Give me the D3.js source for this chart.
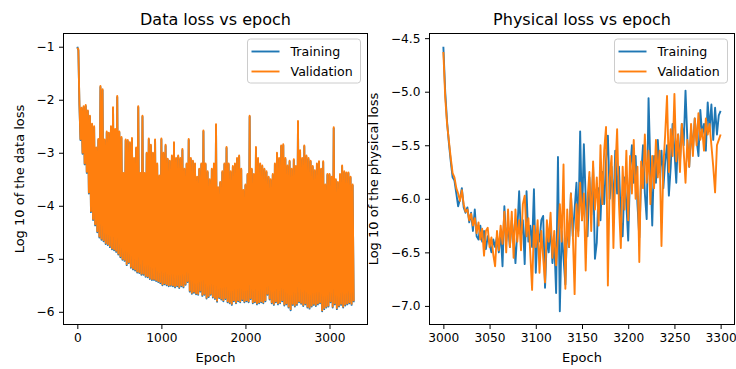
<!DOCTYPE html>
<html><head><meta charset="utf-8">
<script src="https://cdn.jsdelivr.net/npm/d3@7"></script>
<style>
body{margin:0;background:#fff}
svg{display:block}
text{font-family:"DejaVu Sans",sans-serif;fill:#000}
</style>
</head><body>
<svg id="c" width="736" height="369"></svg>
<script>
// ---------- Left chart: data loss (log10), read per 25-epoch bin: bin max / bin min ----------
const dataStep = 25;
const dataValHigh = [
-1.02,-2.08,-2.15,-2.12,-2.10,-2.20,-2.30,-2.45,-2.50,-2.90,
-2.74,-1.74,-1.80,-2.75,-2.60,-2.62,-2.50,-2.14,-2.55,-1.93,
-2.60,-2.70,-3.38,-2.75,-2.76,-2.80,-2.72,-3.10,-2.90,-2.12,
-3.38,-2.30,-3.38,-3.00,-2.73,-2.85,-3.00,-2.75,-3.20,-3.43,
-2.73,-3.00,-2.85,-3.11,-3.15,-3.05,-2.80,-3.10,-3.05,-3.10,
-2.93,-3.30,-3.20,-2.74,-3.10,-3.15,-3.20,-3.45,-3.30,-3.20,
-2.58,-3.20,-3.35,-3.50,-3.30,-3.20,-2.46,-3.65,-3.55,-3.35,
-3.20,-2.89,-3.20,-3.35,-3.25,-3.20,-3.10,-3.05,-3.30,-3.70,
-3.60,-3.40,-2.30,-3.30,-3.40,-2.89,-3.10,-3.20,-3.24,-3.30,
-3.35,-3.45,-3.50,-3.40,-3.20,-3.00,-3.10,-2.86,-2.84,-3.10,
-3.24,-3.15,-3.30,-3.12,-3.25,-2.40,-2.95,-3.10,-2.86,-3.05,
-3.10,-3.15,-3.25,-3.33,-3.20,-3.16,-3.30,-3.16,-3.60,-3.40,
-3.40,-3.45,-2.52,-3.50,-3.55,-3.40,-3.24,-3.35,-3.37,-3.37,
-3.45,-3.60];
const dataValLow = [
-1.05,-2.74,-3.00,-3.20,-3.36,-3.75,-4.10,-4.25,-4.35,-4.48,
-4.58,-4.62,-4.65,-4.70,-4.72,-4.76,-4.80,-4.82,-4.85,-4.90,
-4.95,-5.00,-5.02,-5.10,-5.06,-5.15,-5.18,-5.20,-5.24,-5.25,
-5.28,-5.28,-5.32,-5.33,-5.36,-5.38,-5.38,-5.40,-5.42,-5.44,
-5.48,-5.46,-5.48,-5.50,-5.49,-5.50,-5.52,-5.50,-5.53,-5.50,
-5.52,-5.47,-5.42,-5.60,-5.64,-5.62,-5.65,-5.66,-5.60,-5.68,
-5.66,-5.73,-5.70,-5.66,-5.71,-5.74,-5.79,-5.72,-5.75,-5.78,
-5.74,-5.80,-5.82,-5.85,-5.78,-5.82,-5.78,-5.80,-5.76,-5.80,
-5.78,-5.80,-5.74,-5.82,-5.80,-5.84,-5.82,-5.80,-5.82,-5.78,
-5.66,-5.75,-5.82,-5.85,-5.80,-5.84,-5.82,-5.78,-5.86,-5.84,
-5.90,-5.95,-5.85,-5.88,-5.85,-5.80,-5.83,-5.87,-5.84,-5.90,
-5.92,-5.88,-5.85,-5.87,-5.84,-5.82,-5.97,-5.93,-5.90,-5.88,
-5.80,-5.90,-5.84,-5.93,-5.88,-5.85,-5.90,-5.86,-5.84,-5.82,
-5.85,-5.80];
const dataTrainHigh = [
-1.00,-2.10,-2.17,-2.14,-2.12,-2.22,-2.32,-2.47,-2.52,-2.92,
-2.76,-1.76,-1.82,-2.77,-2.62,-2.64,-2.52,-2.16,-2.57,-1.95,
-2.62,-2.72,-3.40,-2.77,-2.78,-2.82,-2.74,-3.12,-2.92,-2.14,
-3.40,-2.32,-3.40,-3.02,-2.75,-2.87,-3.02,-2.77,-3.22,-3.45,
-2.75,-3.02,-2.87,-3.13,-3.17,-3.07,-2.82,-3.12,-3.07,-3.12,
-2.95,-3.32,-3.22,-2.76,-3.12,-3.17,-3.22,-3.47,-3.32,-3.22,
-2.60,-3.22,-3.37,-3.52,-3.32,-3.22,-2.48,-3.67,-3.57,-3.37,
-3.22,-2.91,-3.22,-3.37,-3.27,-3.22,-3.12,-3.07,-3.32,-3.72,
-3.62,-3.42,-2.32,-3.32,-3.42,-2.91,-3.12,-3.22,-3.26,-3.32,
-3.37,-3.47,-3.52,-3.42,-3.22,-3.02,-3.12,-2.88,-2.86,-3.12,
-3.26,-3.17,-3.32,-3.14,-3.27,-2.42,-2.97,-3.12,-2.88,-3.07,
-3.12,-3.17,-3.27,-3.35,-3.22,-3.18,-3.32,-3.18,-3.62,-3.42,
-3.42,-3.47,-2.54,-3.52,-3.57,-3.42,-3.26,-3.37,-3.39,-3.39,
-3.47,-3.62];
const dataTrainLow = [
-1.07,-2.76,-3.02,-3.22,-3.38,-3.77,-4.12,-4.27,-4.37,-4.50,
-4.60,-4.64,-4.67,-4.72,-4.74,-4.78,-4.82,-4.84,-4.87,-4.92,
-4.97,-5.02,-5.04,-5.12,-5.08,-5.17,-5.20,-5.22,-5.26,-5.27,
-5.30,-5.30,-5.34,-5.35,-5.38,-5.40,-5.40,-5.42,-5.44,-5.46,
-5.50,-5.48,-5.50,-5.52,-5.51,-5.52,-5.54,-5.52,-5.55,-5.52,
-5.54,-5.49,-5.44,-5.62,-5.66,-5.64,-5.67,-5.68,-5.62,-5.70,
-5.68,-5.75,-5.72,-5.68,-5.73,-5.76,-5.81,-5.74,-5.77,-5.80,
-5.76,-5.82,-5.84,-5.87,-5.80,-5.84,-5.80,-5.82,-5.78,-5.82,
-5.80,-5.82,-5.76,-5.84,-5.82,-5.86,-5.84,-5.82,-5.84,-5.80,
-5.68,-5.77,-5.84,-5.87,-5.82,-5.86,-5.84,-5.80,-5.88,-5.86,
-5.92,-5.97,-5.87,-5.90,-5.87,-5.82,-5.85,-5.89,-5.86,-5.92,
-5.94,-5.90,-5.87,-5.89,-5.86,-5.84,-5.99,-5.95,-5.92,-5.90,
-5.82,-5.92,-5.86,-5.95,-5.90,-5.87,-5.92,-5.88,-5.86,-5.84,
-5.87,-5.82];

// ---------- Right chart: physical loss (log10), every 2 epochs from 3000 to 3300 ----------
const physStart = 3000, physStep = 2;
const physTrain = [
-4.58,-5.00,-5.28,-5.48,-5.65,-5.80,-5.83,-5.95,-6.07,-6.00,
-5.90,-6.08,-6.13,-6.08,-6.22,-6.13,-6.30,-6.10,-6.35,-6.38,
-6.25,-6.40,-6.30,-6.47,-6.35,-6.42,-6.50,-6.38,-6.45,-6.35,
-6.50,-6.30,-6.63,-6.07,-6.40,-6.25,-6.45,-6.20,-6.35,-6.60,
-6.30,-5.93,-6.35,-6.20,-6.61,-5.93,-6.40,-6.25,-6.45,-5.91,
-6.69,-6.30,-6.40,-6.20,-6.16,-6.83,-6.35,-6.50,-6.25,-6.60,
-6.40,-6.88,-5.61,-7.05,-6.30,-6.55,-6.80,-6.20,-6.45,-5.95,
-6.35,-6.10,-5.85,-6.30,-5.37,-6.20,-5.49,-6.00,-6.35,-5.80,
-6.15,-5.70,-6.56,-6.41,-5.90,-6.20,-5.75,-6.05,-5.65,-5.41,
-6.00,-5.70,-6.10,-5.55,-5.95,-5.70,-6.20,-6.35,-5.80,-6.05,
-6.39,-5.75,-5.50,-5.85,-5.60,-6.05,-6.36,-5.80,-5.50,-5.95,
-6.19,-5.06,-5.70,-6.25,-5.60,-5.85,-5.45,-5.75,-5.55,-5.90,
-5.65,-5.50,-5.97,-5.70,-5.30,-5.55,-5.85,-5.40,-5.65,-5.30,
-5.50,-4.99,-5.45,-5.70,-5.35,-5.55,-5.25,-5.45,-5.60,-5.17,
-5.40,-5.30,-5.55,-5.10,-5.35,-5.12,-5.45,-5.15,-5.40,-5.22,
-5.18];
const physVal = [
-4.63,-5.05,-5.30,-5.46,-5.62,-5.76,-5.80,-5.90,-5.95,-6.02,
-5.92,-6.05,-6.12,-6.10,-6.20,-6.14,-6.25,-6.18,-6.32,-6.22,
-6.38,-6.28,-6.53,-6.30,-6.27,-6.45,-6.36,-6.52,-6.63,-6.30,
-6.48,-6.25,-6.42,-6.12,-6.50,-6.10,-6.45,-6.12,-6.55,-6.10,
-6.40,-6.20,-6.48,-6.05,-5.97,-6.35,-6.18,-6.50,-6.85,-6.25,
-6.45,-6.20,-6.69,-6.30,-6.55,-6.78,-6.20,-6.40,-6.13,-6.55,
-6.30,-6.62,-6.35,-6.05,-6.40,-5.68,-6.84,-6.10,-6.45,-5.95,
-6.30,-6.89,-6.05,-6.35,-5.85,-6.20,-5.95,-6.67,-6.00,-5.75,
-6.30,-5.65,-6.10,-5.80,-6.25,-5.50,-6.05,-5.55,-5.33,-6.81,
-5.80,-5.60,-6.46,-5.75,-5.35,-6.05,-6.46,-5.70,-6.10,-5.55,
-6.20,-5.60,-5.95,-5.45,-6.00,-5.70,-6.59,-5.65,-5.90,-5.40,
-5.85,-5.55,-6.05,-5.60,-5.90,-5.45,-5.80,-5.55,-6.44,-5.70,
-5.40,-5.04,-5.75,-5.35,-5.60,-5.02,-5.65,-5.40,-5.75,-5.30,
-5.55,-5.85,-5.45,-5.70,-5.30,-5.60,-5.25,-5.50,-5.20,-5.45,
-5.35,-5.55,-5.25,-5.40,-5.30,-5.50,-5.70,-5.94,-5.50,-5.45,
-5.40];

// ---------- Ticks & labels ----------
const leftXTicks = [0, 1000, 2000, 3000];
const leftYTicks = [-6, -5, -4, -3, -2, -1];
const rightXTicks = [3000, 3050, 3100, 3150, 3200, 3250, 3300];
const rightYTicks = [-7.0, -6.5, -6.0, -5.5, -5.0, -4.5];
const seriesNames = ["Training", "Validation"];
const seriesColors = ["#1f77b4", "#ff7f0e"];

// ---------- build point lists ----------
function binPoints(high, low, step) {
  const pts = [];
  high.forEach((h, i) => { pts.push([i * step, h]); pts.push([i * step + step / 2, low[i]]); });
  return pts;
}
const leftTrainPts = binPoints(dataTrainHigh, dataTrainLow, dataStep);
const leftValPts = binPoints(dataValHigh, dataValLow, dataStep);
const rightTrainPts = physTrain.map((v, i) => [physStart + i * physStep, v]);
const rightValPts = physVal.map((v, i) => [physStart + i * physStep, v]);

const svg = d3.select("#c");
function padExt(ext) { const r = ext[1] - ext[0]; return [ext[0] - 0.05 * r, ext[1] + 0.05 * r]; }

function panel(o) {
  const b = o.box;
  const all = o.series.flatMap(s => s.pts);
  const x = d3.scaleLinear().domain(padExt(d3.extent(all, d => d[0]))).range([b.left, b.right]);
  const y = d3.scaleLinear().domain(padExt(d3.extent(all, d => d[1]))).range([b.bottom, b.top]);
  const g = svg.append("g");
  g.append("clipPath").attr("id", o.key).append("rect")
    .attr("x", b.left).attr("y", b.top).attr("width", b.right - b.left).attr("height", b.bottom - b.top);
  const line = d3.line().x(d => x(d[0])).y(d => y(d[1]));
  o.series.forEach(s => {
    g.append("path").datum(s.pts).attr("d", line).attr("fill", "none")
      .attr("stroke", s.color).attr("stroke-width", 1.9).attr("stroke-linejoin", "round")
      .attr("clip-path", `url(#${o.key})`);
  });
  const xa = g.append("g").attr("transform", `translate(0,${b.bottom})`)
    .call(d3.axisBottom(x).tickValues(o.xTicks).tickSize(4.5).tickPadding(4.5).tickFormat(d3.format("d")));
  const ya = g.append("g").attr("transform", `translate(${b.left},0)`)
    .call(d3.axisLeft(y).tickValues(o.yTicks).tickSize(4.5).tickPadding(4.5).tickFormat(d3.format(o.yFmt)));
  [xa, ya].forEach(a => {
    a.select(".domain").remove();
    a.attr("font-family", null).attr("font-size", null);
    a.selectAll("line").attr("stroke", "#000").attr("stroke-width", 1);
    a.selectAll("text").style("font-size", "12.2px").attr("fill", "#000");
  });
  g.append("rect").attr("x", b.left).attr("y", b.top).attr("width", b.right - b.left).attr("height", b.bottom - b.top)
    .attr("fill", "none").attr("stroke", "#000").attr("stroke-width", 1);
  const cx = (b.left + b.right) / 2, cy = (b.top + b.bottom) / 2;
  g.append("text").attr("x", cx).attr("y", 25).attr("text-anchor", "middle").style("font-size", "16px").text(o.title);
  g.append("text").attr("x", cx).attr("y", 362).attr("text-anchor", "middle").style("font-size", "13px").text("Epoch");
  g.append("text").attr("transform", `translate(${o.ylabelX},${cy}) rotate(-90)`).attr("text-anchor", "middle")
    .style("font-size", "13px").text(o.ylabel);
  // legend
  const lx = b.right - 120, ly = b.top + 5.5;
  const lg = g.append("g");
  lg.append("rect").attr("x", lx).attr("y", ly).attr("width", 113).attr("height", 44).attr("rx", 3)
    .attr("fill", "#fff").attr("fill-opacity", 0.8).attr("stroke", "#cccccc").attr("stroke-width", 1);
  o.series.forEach((s, i) => {
    const yy = ly + 12.5 + i * 20;
    lg.append("line").attr("x1", lx + 4).attr("x2", lx + 32).attr("y1", yy).attr("y2", yy)
      .attr("stroke", s.color).attr("stroke-width", 1.9);
    lg.append("text").attr("x", lx + 43).attr("y", yy + 4.5).style("font-size", "12.6px").text(s.name);
  });
}

panel({
  key: "clipL",
  box: {left: 63.5, right: 367.5, top: 33.5, bottom: 324.5},
  series: [
    {name: seriesNames[0], color: seriesColors[0], pts: leftTrainPts},
    {name: seriesNames[1], color: seriesColors[1], pts: leftValPts}
  ],
  xTicks: leftXTicks, yTicks: leftYTicks, yFmt: "d",
  title: "Data loss vs epoch", ylabel: "Log 10 of the data loss", ylabelX: 23.5
});
panel({
  key: "clipR",
  box: {left: 429.5, right: 734.5, top: 33.5, bottom: 324.5},
  series: [
    {name: seriesNames[0], color: seriesColors[0], pts: rightTrainPts},
    {name: seriesNames[1], color: seriesColors[1], pts: rightValPts}
  ],
  xTicks: rightXTicks, yTicks: rightYTicks, yFmt: ".1f",
  title: "Physical loss vs epoch", ylabel: "Log 10 of the physical loss", ylabelX: 378
});
</script>
</body></html>
